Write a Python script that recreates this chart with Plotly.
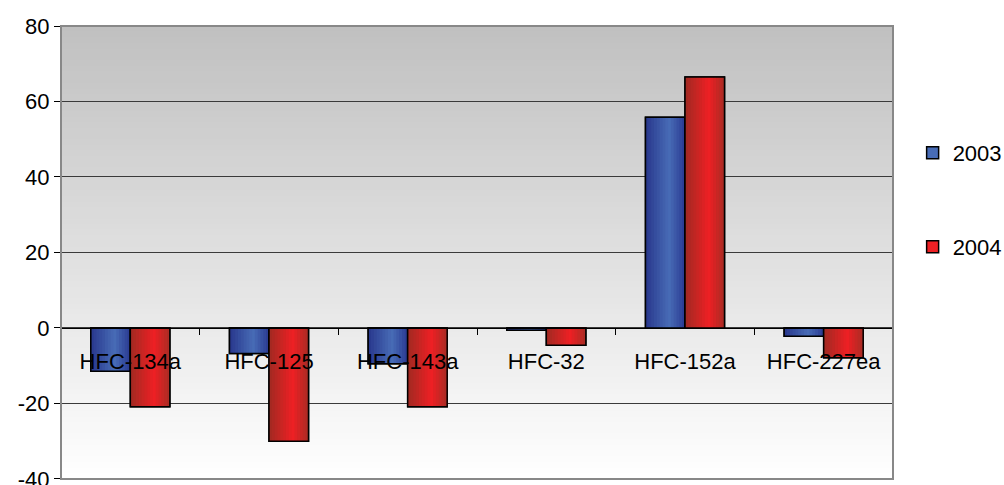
import plotly.graph_objects as go

categories = ["HFC-134a", "HFC-125", "HFC-143a", "HFC-32", "HFC-152a", "HFC-227ea"]
values_2003 = [-11.5, -6.8, -9.5, -0.6, 55.8, -2.2]
values_2004 = [-20.9, -30.0, -20.9, -4.6, 66.5, -7.9]
series_names = ["2003", "2004"]
y_ticks = [-40, -20, 0, 20, 40, 60, 80]
y_tick_labels = ["-40", "-20", "0", "20", "40", "60", "80"]

FONT = "Liberation Sans, Arial, sans-serif"
BAR_W = 0.285
N_STRIPES = 14

# gradient stops (position, rgb)
blue_stops = [(0.0, (40, 55, 140)), (0.6, (72, 108, 182)), (1.0, (42, 58, 145))]
red_stops = [(0.0, (160, 42, 34)), (0.6, (238, 32, 36)), (1.0, (168, 44, 36))]


def interp(stops, t):
    for (p0, c0), (p1, c1) in zip(stops[:-1], stops[1:]):
        if p0 <= t <= p1:
            f = (t - p0) / (p1 - p0) if p1 > p0 else 0
            return "rgb(%d,%d,%d)" % tuple(round(a + (b - a) * f) for a, b in zip(c0, c1))
    return "rgb(%d,%d,%d)" % stops[-1][1]


fig = go.Figure()

series = [
    (series_names[0], values_2003, blue_stops, -BAR_W, "legend"),
    (series_names[1], values_2004, red_stops, 0.0, "legend2"),
]

for name, vals, stops, off, leg in series:
    # base trace (legend entry)
    fig.add_trace(go.Bar(
        x=categories, y=vals, name=name, width=BAR_W, offset=off,
        marker=dict(color=interp(stops, 0.6), line=dict(color="black", width=1.5)),
        legend=leg, showlegend=True, hoverinfo="skip",
    ))
    # gradient stripes
    for i in range(N_STRIPES):
        start = i / N_STRIPES
        t = (i + 0.5) / N_STRIPES
        fig.add_trace(go.Bar(
            x=categories, y=vals, width=BAR_W * (1 - start), offset=off + BAR_W * start,
            marker=dict(color=interp(stops, t), line=dict(width=0)),
            showlegend=False, hoverinfo="skip",
        ))
    # outline
    fig.add_trace(go.Bar(
        x=categories, y=vals, width=BAR_W, offset=off,
        marker=dict(color="rgba(0,0,0,0)", line=dict(color="black", width=1.5)),
        showlegend=False, hovertemplate=name + ": %{y}<extra></extra>",
    ))

# plot-area vertical gradient background
shapes = []
N_BANDS = 80
for i in range(N_BANDS):
    t = i / N_BANDS
    g = round(192 + (255 - 192) * (1 - (i + 0.5) / N_BANDS))
    shapes.append(dict(
        type="rect", xref="paper", yref="paper",
        x0=0, x1=1, y0=t, y1=t + 1 / N_BANDS + 0.002,
        fillcolor="rgb(%d,%d,%d)" % (g, g, g), line=dict(width=0), layer="below",
    ))
shapes.append(dict(type="rect", xref="paper", yref="paper", x0=0, x1=1, y0=0, y1=1,
                   line=dict(color="#888888", width=2), layer="above"))

ymin, ymax = y_ticks[0], y_ticks[-1]

fig.update_layout(
    width=1004, height=485,
    margin=dict(l=61, r=111, t=26, b=6, autoexpand=False),
    paper_bgcolor="white", plot_bgcolor="white",
    barmode="overlay",
    font=dict(family=FONT, size=22, color="black"),
    shapes=shapes,
    xaxis=dict(
        type="category", anchor="free", position=(0 - ymin) / (ymax - ymin),
        showline=True, linecolor="black", linewidth=1,
        ticks="outside", tickson="boundaries", ticklen=6, tickcolor="black",
        ticklabelstandoff=14, showgrid=False, zeroline=False, automargin=False,
        tickfont=dict(family=FONT, size=22, color="black"),
        layer="above traces",
    ),
    yaxis=dict(
        range=[ymin - 0.02, ymax], tickvals=y_ticks, ticktext=y_tick_labels,
        showline=True, linecolor="black", linewidth=1,
        ticks="outside", ticklen=6, tickcolor="black", automargin=False,
        ticklabeloverflow="allow",
        showgrid=True, gridcolor="#3a3a3a", gridwidth=1, zeroline=False,
        tickfont=dict(family=FONT, size=22, color="black"),
    ),
    legend=dict(xref="container", yref="container", x=0.909, y=1 - 153 / 485,
                xanchor="left", yanchor="middle",
                font=dict(family=FONT, size=22, color="black"), bgcolor="rgba(0,0,0,0)"),
    legend2=dict(xref="container", yref="container", x=0.909, y=1 - 247 / 485,
                 xanchor="left", yanchor="middle",
                 font=dict(family=FONT, size=22, color="black"), bgcolor="rgba(0,0,0,0)"),
)

fig.write_html("out.html", config={"displayModeBar": False},
               post_script="document.body.style.margin='0';document.body.style.overflow='hidden';")
